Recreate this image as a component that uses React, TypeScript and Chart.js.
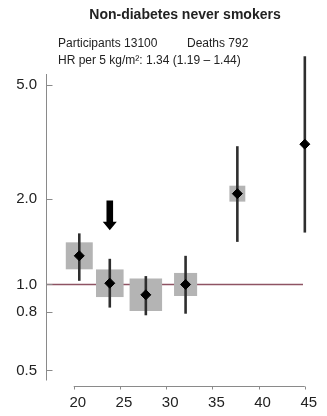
import React, { useEffect, useRef } from "react";
import { Chart, registerables } from "chart.js";

Chart.register(...registerables);

// ---- data ----
const TITLE = "Non-diabetes never smokers";
const PARTICIPANTS_TEXT = "Participants 13100";
const DEATHS_TEXT = "Deaths 792";
const HR_TEXT = "HR per 5 kg/m²: 1.34 (1.19 – 1.44)";

const BMI = [20.6, 23.9, 27.8, 32.1, 37.7, 45.0];
const HR = [1.26, 1.01, 0.92, 1.0, 2.08, 3.1];
const CI_LOW = [1.03, 0.83, 0.78, 0.79, 1.41, 1.52];
const CI_HIGH = [1.51, 1.23, 1.07, 1.26, 3.05, 6.3];
const BOX_WEIGHT = [0.83, 0.85, 1.0, 0.71, 0.49, 0.12];

const X_TICKS = [20, 25, 30, 35, 40, 45];
const Y_TICKS = [0.5, 0.8, 1.0, 2.0, 5.0];

const REF_HR = 1;
const REF_BMI_RANGE = [17, 44.8];

const ARROW_BMI = 23.9;
const ARROW_HR_RANGE = [1.97, 1.55];

// ---- styles ----
const FONT = "'Liberation Sans', Arial, Helvetica, sans-serif";
const TEXT_COLOR = "#222222";
const AXIS_COLOR = "#8a8a8a";
const BOX_COLOR = "#b4b4b4";
const CI_COLOR = "#2e2e2e";
const REF_COLOR = "#8e5363";
const MAX_BOX_SIDE = 32.5;

const decorPlugin = {
  id: "decor",
  afterDraw(chart: any) {
    const { ctx, chartArea, scales } = chart;
    const xs = scales.x;
    const ys = scales.y;
    ctx.save();
    ctx.setLineDash([]);
    ctx.globalAlpha = 1;
    // texts
    ctx.fillStyle = TEXT_COLOR;
    ctx.textBaseline = "alphabetic";
    ctx.font = `bold 14px ${FONT}`;
    ctx.textAlign = "center";
    ctx.fillText(TITLE, 185, 19);
    ctx.font = `12px ${FONT}`;
    ctx.textAlign = "left";
    ctx.fillText(PARTICIPANTS_TEXT, 58, 47);
    ctx.fillText(DEATHS_TEXT, 187, 47);
    ctx.fillText(HR_TEXT, 58, 64);

    // y axis
    ctx.strokeStyle = AXIS_COLOR;
    ctx.lineWidth = 1;
    const ax = Math.round(chartArea.left) + 0.5;
    ctx.beginPath();
    ctx.moveTo(ax, chartArea.top);
    ctx.lineTo(ax, chartArea.bottom);
    for (const v of Y_TICKS) {
      const py = Math.round(ys.getPixelForValue(v)) + 0.5;
      ctx.moveTo(ax, py);
      ctx.lineTo(ax + 6, py);
    }
    ctx.stroke();

    // x axis
    const ay = Math.round(chartArea.bottom + 5) + 0.5;
    ctx.beginPath();
    ctx.moveTo(xs.getPixelForValue(X_TICKS[0]), ay);
    ctx.lineTo(xs.getPixelForValue(X_TICKS[X_TICKS.length - 1]), ay);
    for (const v of X_TICKS) {
      const px = Math.round(xs.getPixelForValue(v)) + 0.5;
      ctx.moveTo(px, ay);
      ctx.lineTo(px, ay + 3);
    }
    ctx.stroke();

    // arrow
    const cx = xs.getPixelForValue(ARROW_BMI);
    const top = ys.getPixelForValue(ARROW_HR_RANGE[0]);
    const tip = ys.getPixelForValue(ARROW_HR_RANGE[1]);
    const headLen = 8.5;
    ctx.fillStyle = "#000000";
    ctx.beginPath();
    ctx.moveTo(cx - 3.3, top);
    ctx.lineTo(cx + 3.3, top);
    ctx.lineTo(cx + 3.3, tip - headLen);
    ctx.lineTo(cx + 7, tip - headLen);
    ctx.lineTo(cx, tip);
    ctx.lineTo(cx - 7, tip - headLen);
    ctx.lineTo(cx - 3.3, tip - headLen);
    ctx.closePath();
    ctx.fill();
    ctx.restore();
  },
};

export default function App() {
  const ref = useRef<HTMLCanvasElement | null>(null);

  useEffect(() => {
    if (!ref.current) return;
    const ciSets = BMI.map((b, i) => ({
      data: [
        { x: b, y: CI_LOW[i] },
        { x: b, y: CI_HIGH[i] },
      ],
      showLine: true,
      borderColor: CI_COLOR,
      borderWidth: 2.6,
      pointRadius: 0,
      clip: false,
      order: 1,
    }));

    const chart = new Chart(ref.current, {
      type: "scatter",
      data: {
        datasets: [
          {
            data: BMI.map((b, i) => ({ x: b, y: HR[i] })),
            pointStyle: "rectRot",
            pointRadius: 5,
            backgroundColor: "#000000",
            borderColor: "#000000",
            borderWidth: 1,
            clip: false,
            order: 0,
          },
          ...ciSets,
          {
            data: BMI.map((b, i) => ({ x: b, y: HR[i] })),
            pointStyle: "rect",
            pointRadius: BOX_WEIGHT.map((w) => (w * MAX_BOX_SIDE) / Math.SQRT2),
            backgroundColor: BOX_COLOR,
            borderWidth: 0,
            clip: false,
            order: 2,
          },
          {
            data: REF_BMI_RANGE.map((b) => ({ x: b, y: REF_HR })),
            showLine: true,
            borderColor: REF_COLOR,
            borderWidth: 1.3,
            pointRadius: 0,
            order: 3,
          },
        ] as any,
      },
      options: {
        animation: false,
        responsive: false,
        devicePixelRatio: 1,
        events: [],
        layout: { autoPadding: false, padding: { top: 74, right: 12, bottom: 0, left: 0 } },
        plugins: {
          legend: { display: false },
          tooltip: { enabled: false },
          title: { display: false },
        },
        scales: {
          x: {
            type: "linear",
            min: 17,
            max: 46.1,
            afterFit: (s: any) => {
              s.height = 35.5;
            },
            afterBuildTicks: (s: any) => {
              s.ticks = X_TICKS.map((v) => ({ value: v }));
            },
            grid: { display: false, drawTicks: false },
            border: { display: false },
            ticks: {
              color: TEXT_COLOR,
              font: { family: FONT, size: 15 },
              padding: 13,
              labelOffset: 4,
              maxRotation: 0,
              autoSkip: false,
              callback: (v: any) => String(v),
            },
          },
          y: {
            type: "logarithmic",
            min: 0.461,
            max: 5.46,
            afterFit: (s: any) => {
              s.width = 46;
            },
            afterBuildTicks: (s: any) => {
              s.ticks = Y_TICKS.map((v) => ({ value: v }));
            },
            grid: { display: false, drawTicks: false },
            border: { display: false },
            ticks: {
              color: TEXT_COLOR,
              font: { family: FONT, size: 15 },
              padding: 9,
              autoSkip: false,
              callback: (v: any) => Number(v).toFixed(1),
            },
          },
        },
      } as any,
      plugins: [decorPlugin],
    });
    return () => chart.destroy();
  }, []);

  return (
    <div style={{ position: "absolute", left: 0, top: 0, width: 327, height: 416, background: "#ffffff" }}>
      <canvas ref={ref} width={327} height={416} style={{ display: "block" }} />
    </div>
  );
}
